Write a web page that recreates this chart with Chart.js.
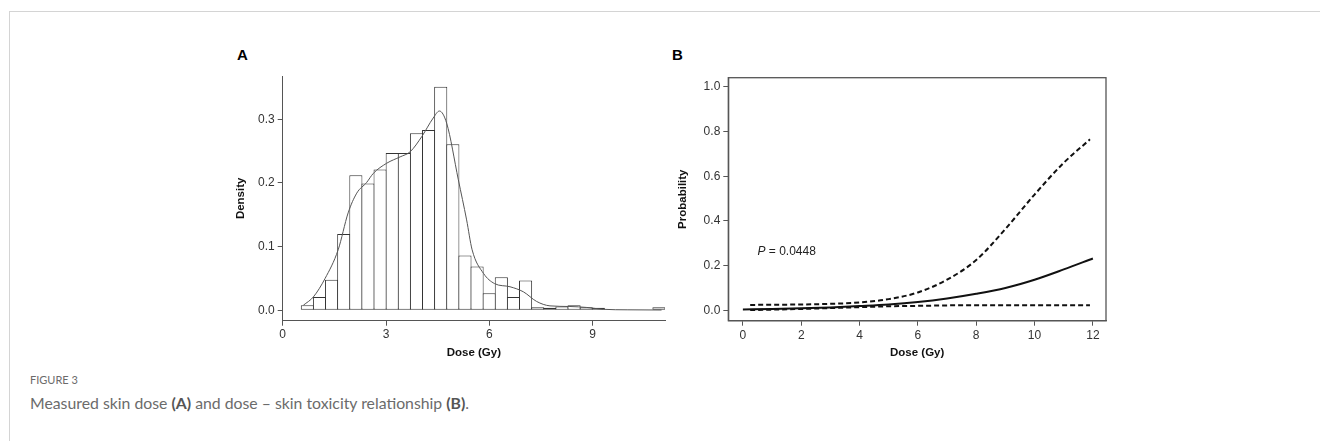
<!DOCTYPE html>
<html>
<head>
<meta charset="utf-8">
<script src="https://cdn.jsdelivr.net/npm/chart.js@4.4.0/dist/chart.umd.min.js"></script>
<style>
  body { margin: 0; width: 1320px; height: 441px; background: #fff; position: relative; overflow: hidden;
         font-family: "Liberation Sans", Arial, sans-serif; }
  .frame { position: absolute; left: 9px; top: 11px; width: 1320px; height: 440px;
           border-left: 1px solid #d4d4d4; border-top: 1px solid #d4d4d4; }
  #chartA { position: absolute; left: 200px; top: 40px; }
  #chartB { position: absolute; left: 650px; top: 40px; }
  .panel { position: absolute; font-weight: bold; font-size: 15px; color: #000; line-height: 1; }
  .fig { position: absolute; left: 30px; top: 373px; font-family: Lato, sans-serif; font-size: 11px; color: #6b6b6b; }
  .cap { position: absolute; left: 30px; top: 393px; font-family: Lato, sans-serif; font-size: 15.8px; color: #6b6b6b; }
  .cap b { color: #555; }
</style>
</head>
<body>
<div class="frame"></div>
<div class="panel" style="left:237px; top:47px;">A</div>
<div class="panel" style="left:672px; top:47px;">B</div>
<canvas id="chartA" width="480" height="330"></canvas>
<canvas id="chartB" width="480" height="330"></canvas>
<div class="fig">FIGURE 3</div>
<div class="cap">Measured skin dose <b>(A)</b> and dose – skin toxicity relationship <b>(B)</b>.</div>

<script>
// Panel A: histogram of measured skin dose (bin centres, Gy) and density
const doseBins = [0.716, 1.068, 1.420, 1.772, 2.124, 2.476, 2.828, 3.180, 3.532, 3.884,
                  4.236, 4.588, 4.940, 5.292, 5.644, 5.996, 6.348, 6.700, 7.052, 7.404,
                  7.756, 8.108, 8.460, 8.812, 9.164, 9.516, 9.868, 10.220, 10.572, 10.924];
const binDensity = [0.008, 0.021, 0.048, 0.120, 0.212, 0.199, 0.221, 0.247, 0.247, 0.278,
                    0.283, 0.351, 0.261, 0.086, 0.069, 0.027, 0.052, 0.021, 0.047, 0.005,
                    0.004, 0.006, 0.008, 0.005, 0.004, 0.001, 0.001, 0.001, 0.001, 0.005];

// smoothed density curve
const kdeDose = [0.6, 0.89, 1.23, 1.61, 1.90, 2.15, 2.44, 2.63, 3.02, 3.41, 3.70, 4.04, 4.37,
                 4.55, 4.76, 5.10, 5.34, 5.50, 5.83, 6.15, 6.60, 6.99, 7.37, 7.76, 8.34, 8.83,
                 9.31, 10.0, 11.0];
const kdeDensity = [0.008, 0.021, 0.050, 0.095, 0.153, 0.184, 0.201, 0.215, 0.231, 0.241, 0.249,
                    0.273, 0.302, 0.313, 0.294, 0.205, 0.142, 0.095, 0.058, 0.042, 0.037, 0.029,
                    0.014, 0.007, 0.006, 0.0045, 0.0016, 0.0008, 0.0005];

const ticksAx = [0, 3, 6, 9];
const ticksAy = [0, 0.1, 0.2, 0.3];

// Panel B: dose - toxicity probability with confidence band
const doseFit = [0, 1, 2, 3, 4, 5, 6, 7, 8, 9, 10, 11, 12];
const probFit = [0.004, 0.006, 0.009, 0.013, 0.019, 0.026, 0.037, 0.053, 0.074, 0.100, 0.137, 0.183, 0.232];

const doseCI = [0.25, 1, 2, 3, 4, 5, 6, 7, 8, 9, 10, 11, 11.9];
const probUpper = [0.024, 0.025, 0.026, 0.029, 0.035, 0.050, 0.080, 0.137, 0.225, 0.364, 0.518, 0.660, 0.765];
const probLower = [0.001, 0.003, 0.006, 0.010, 0.014, 0.018, 0.020, 0.022, 0.023, 0.023, 0.023, 0.023, 0.023];

const ticksBx = [0, 2, 4, 6, 8, 10, 12];
const ticksBy = [0, 0.2, 0.4, 0.6, 0.8, 1.0];

const toXY = (xs, ys) => xs.map((x, i) => ({ x, y: ys[i] }));

const axisColor = '#555';
const tickFont = { family: '"Liberation Sans", Arial, sans-serif', size: 12 };
const titleFont = { family: '"Liberation Sans", Arial, sans-serif', size: 11.5, weight: 'bold' };

Chart.defaults.color = '#333';

const fixedTicks = list => scale => { scale.ticks = list.map(v => ({ value: v })); };

// Panel A
new Chart(document.getElementById('chartA'), {
  type: 'bar',
  data: {
    datasets: [
      {
        type: 'line',
        data: toXY(kdeDose, kdeDensity),
        borderColor: '#555',
        borderWidth: 1,
        pointRadius: 0,
        tension: 0.4,
        cubicInterpolationMode: 'monotone',
        order: 0,
      },
      {
        type: 'bar',
        data: toXY(doseBins, binDensity),
        backgroundColor: '#fff',
        borderColor: '#333',
        borderWidth: 1,
        borderSkipped: false,
        barPercentage: 1.082,
        categoryPercentage: 1,
        order: 1,
      },
    ],
  },
  options: {
    responsive: false,
    animation: false,
    devicePixelRatio: 1,
    layout: { padding: { top: 36, right: 15, left: 0, bottom: 0 } },
    plugins: { legend: { display: false }, tooltip: { enabled: false } },
    scales: {
      x: {
        type: 'linear',
        min: 0,
        max: 11.1,
        offset: false,
        afterBuildTicks: fixedTicks(ticksAx),
        afterFit: s => { s.height = 49.3; },
        grid: { drawOnChartArea: false, tickLength: 5, color: axisColor, offset: false },
        border: { color: axisColor, width: 1 },
        ticks: { font: tickFont, padding: 2, maxRotation: 0, callback: v => String(v) },
        title: { display: true, text: 'Dose (Gy)', font: titleFont, color: '#111', padding: { top: 0, bottom: 10 } },
      },
      y: {
        min: -0.0163,
        max: 0.368,
        afterBuildTicks: fixedTicks(ticksAy),
        afterFit: s => { s.width = 82.7; },
        grid: { drawOnChartArea: false, tickLength: 5, color: axisColor },
        border: { color: axisColor, width: 1 },
        ticks: { font: tickFont, padding: 3, callback: v => v.toFixed(1) },
        title: { display: true, text: 'Density', font: titleFont, color: '#111', padding: { top: 34, bottom: 0 } },
      },
    },
  },
});

// Panel B helpers: closed frame and P value label
const boxFrame = {
  id: 'boxFrame',
  afterDraw(chart) {
    const { ctx, chartArea: a } = chart;
    ctx.save();
    ctx.strokeStyle = axisColor;
    ctx.lineWidth = 1.3;
    ctx.strokeRect(a.left, a.top, a.right - a.left, a.bottom - a.top);
    ctx.restore();
  },
};

const pValueLabel = {
  id: 'pValueLabel',
  afterDatasetsDraw(chart, args, opts) {
    const { ctx, scales: { x, y } } = chart;
    const px = x.getPixelForValue(opts.x);
    const py = y.getPixelForValue(opts.y);
    ctx.save();
    ctx.fillStyle = '#222';
    ctx.textBaseline = 'middle';
    ctx.font = 'italic 12px "Liberation Sans", Arial, sans-serif';
    ctx.fillText('P', px, py);
    const w = ctx.measureText('P').width;
    ctx.font = '12px "Liberation Sans", Arial, sans-serif';
    ctx.fillText(' = 0.0448', px + w, py);
    ctx.restore();
  },
};

new Chart(document.getElementById('chartB'), {
  type: 'line',
  data: {
    datasets: [
      {
        data: toXY(doseFit, probFit),
        borderColor: '#111',
        borderWidth: 2,
        pointRadius: 0,
        cubicInterpolationMode: 'monotone',
      },
      {
        data: toXY(doseCI, probUpper),
        borderColor: '#111',
        borderWidth: 2,
        borderDash: [5, 3],
        pointRadius: 0,
        cubicInterpolationMode: 'monotone',
      },
      {
        data: toXY(doseCI, probLower),
        borderColor: '#111',
        borderWidth: 2,
        borderDash: [5, 3],
        pointRadius: 0,
        cubicInterpolationMode: 'monotone',
      },
    ],
  },
  options: {
    responsive: false,
    animation: false,
    devicePixelRatio: 1,
    layout: { padding: { top: 37.7, right: 24, left: 0, bottom: 0 } },
    plugins: {
      legend: { display: false },
      tooltip: { enabled: false },
      pValueLabel: { x: 0.5, y: 0.262 },
    },
    scales: {
      x: {
        type: 'linear',
        min: -0.5,
        max: 12.45,
        afterBuildTicks: fixedTicks(ticksBx),
        afterFit: s => { s.height = 49.3; },
        grid: { drawOnChartArea: false, tickLength: 5, color: axisColor },
        border: { color: axisColor, width: 1.3 },
        ticks: { font: tickFont, padding: 3, maxRotation: 0, callback: v => String(v) },
        title: { display: true, text: 'Dose (Gy)', font: titleFont, color: '#111', padding: { top: 0, bottom: 10 } },
      },
      y: {
        min: -0.0465,
        max: 1.041,
        afterBuildTicks: fixedTicks(ticksBy),
        afterFit: s => { s.width = 78.3; },
        grid: { drawOnChartArea: false, tickLength: 5, color: axisColor },
        border: { color: axisColor, width: 1.3 },
        ticks: { font: tickFont, padding: 3, callback: v => v.toFixed(1) },
        title: { display: true, text: 'Probability', font: titleFont, color: '#111', padding: { top: 26.4, bottom: 0 } },
      },
    },
  },
  plugins: [boxFrame, pValueLabel],
});
</script>
</body>
</html>
